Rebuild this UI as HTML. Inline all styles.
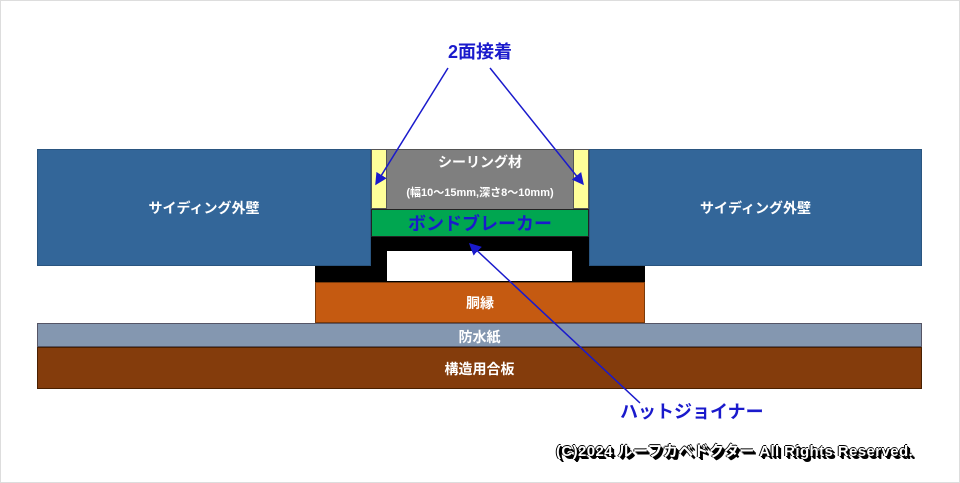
<!DOCTYPE html>
<html><head><meta charset="utf-8"><style>
body{margin:0;width:960px;height:483px;background:#fff;position:relative;overflow:hidden;font-family:"Liberation Sans","Noto Sans CJK JP",sans-serif;font-weight:bold}
div{position:absolute;box-sizing:border-box}
.t{color:#fff;font-size:14px;text-align:center}
</style></head><body>
<div style="left:0;top:0;width:960px;height:483px;border:1px solid #ddd"></div>
<div style="left:37px;top:149px;width:334px;height:117px;background:#336699;border:1px solid #2a5580"></div>
<div style="left:589px;top:149px;width:333px;height:117px;background:#336699;border:1px solid #2a5580"></div>
<div class="t" style="left:37px;top:198px;width:334px">サイディング外壁</div>
<div class="t" style="left:589px;top:198px;width:333px">サイディング外壁</div>
<div style="left:371px;top:149px;width:16px;height:60px;background:#ffff99;border:1px solid #555"></div>
<div style="left:573px;top:149px;width:16px;height:60px;background:#ffff99;border:1px solid #555"></div>
<div style="left:387px;top:149px;width:186px;height:60px;background:#7f7f7f;border-top:1px solid #555"></div>
<div class="t" style="left:387px;top:152px;width:186px;font-size:14px">シーリング材</div>
<div class="t" style="left:387px;top:184px;width:186px;font-size:11px">(幅10～15mm,深さ8～10mm)</div>
<div style="left:371px;top:209px;width:218px;height:28px;background:#00a650;border:1px solid #222"></div>
<div style="left:371px;top:210px;width:218px;text-align:center;color:#1a1acc;font-size:18px">ボンドブレーカー</div>
<div style="left:371px;top:237px;width:218px;height:45px;background:#000"></div>
<div style="left:315px;top:266px;width:330px;height:16px;background:#000"></div>
<div style="left:387px;top:251px;width:185px;height:30px;background:#fff"></div>
<div style="left:315px;top:282px;width:330px;height:41px;background:#c55a11;border:1px solid #7a3a0a"></div>
<div class="t" style="left:315px;top:293px;width:330px">胴縁</div>
<div style="left:37px;top:323px;width:885px;height:24px;background:#8497b0;border:1px solid #556"></div>
<div class="t" style="left:37px;top:327px;width:885px">防水紙</div>
<div style="left:37px;top:347px;width:885px;height:42px;background:#843c0c;border:1px solid #4a2000"></div>
<div class="t" style="left:37px;top:359px;width:885px">構造用合板</div>
<div style="left:420px;top:38px;width:120px;text-align:center;color:#1a1acc;font-size:18px">2面接着</div>
<div style="left:620px;top:398px;width:180px;color:#1a1acc;font-size:18px">ハットジョイナー</div>
<div style="left:556px;top:440px;width:380px;font-size:15px;color:#fff;letter-spacing:0.4px;white-space:nowrap;text-shadow:1px 1px 0 #000,-1px 0 0 #000,0 -1px 0 #000,2px 2px 0 #000,3px 3px 0 #000">(C)2024 ルーフカベドクター All Rights Reserved.</div>
<svg width="960" height="483" style="position:absolute;left:0;top:0">
<defs><marker id="a" markerWidth="8" markerHeight="8" refX="7" refY="4" orient="auto"><path d="M0,0L8,4L0,8z" fill="#1a1acc"/></marker></defs>
<g stroke="#1a1acc" stroke-width="1.5" marker-end="url(#a)">
<line x1="448" y1="68" x2="376" y2="184"/>
<line x1="490" y1="68" x2="583" y2="184"/>
<line x1="640" y1="403" x2="470" y2="244"/>
</g></svg>
</body></html>
